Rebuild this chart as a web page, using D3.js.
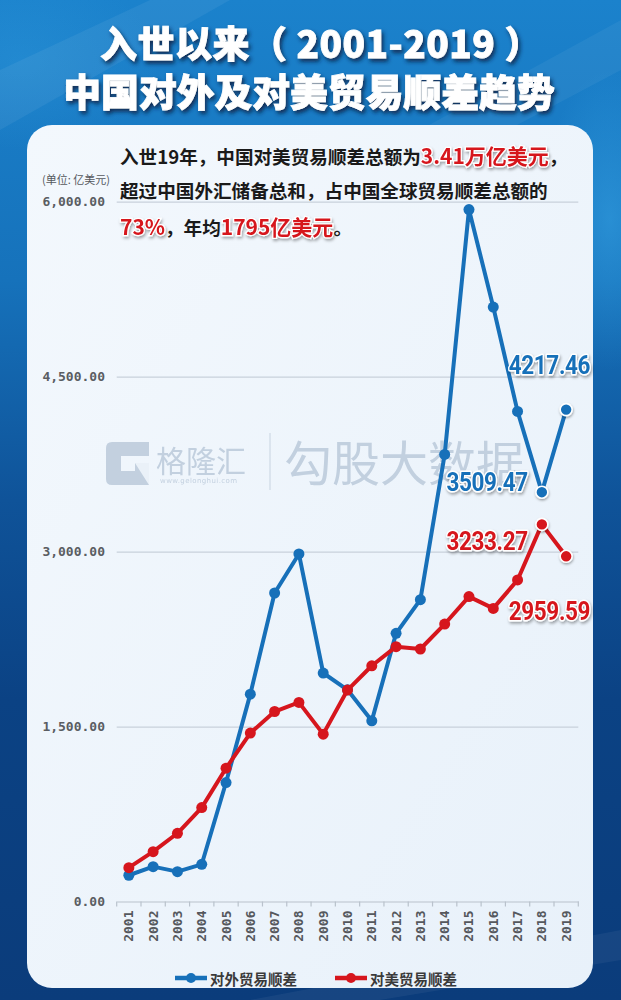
<!DOCTYPE html>
<html>
<head>
<meta charset="utf-8">
<script src="https://cdn.jsdelivr.net/npm/d3@7/dist/d3.min.js"></script>
<style>
  html, body { margin: 0; padding: 0; background: #0c3f7e; }
  svg { display: block; }
</style>
</head>
<body>
<svg id="chart" width="621" height="1000"></svg>
<script>
// Years since WTO accession
const years = ["2001","2002","2003","2004","2005","2006","2007","2008","2009","2010",
               "2011","2012","2013","2014","2015","2016","2017","2018","2019"];
// China's total trade surplus (100 million USD)
const totalSurplus = [225, 299, 256, 319, 1020, 1778, 2645, 2980, 1959, 1815,
                      1549, 2299, 2588, 3833, 5933, 5097, 4202, 3509.47, 4217.46];
// China's trade surplus with the US (100 million USD)
const usSurplus = [290, 427, 585, 805, 1143, 1444, 1629, 1707, 1435, 1813,
                   2021, 2185, 2165, 2379, 2614, 2513, 2757, 3233.27, 2959.59];
// Value axis ticks
const yTicks = [0, 1500, 3000, 4500, 6000];
const seriesNames = ["对外贸易顺差", "对美贸易顺差"];
const titleLines = ["入世以来（ 2001-2019 ）", "中国对外及对美贸易顺差趋势"];

const BLUE = "#1770b9", RED = "#d6161d";
const CJK = "'Noto Sans CJK SC', 'Noto Sans', sans-serif";
const MONO = "'DejaVu Sans Mono', 'Liberation Mono', monospace";
const NUM = "'Roboto', 'Liberation Sans', sans-serif";

const svg = d3.select("#chart");
const defs = svg.append("defs");

// ---- background ----
const bg = defs.append("linearGradient").attr("id", "bg").attr("x1", 0).attr("y1", 0).attr("x2", 0).attr("y2", 1);
[[0, "#1b82cc"], [0.28, "#1672bb"], [0.5, "#0f5399"], [0.7, "#0b4284"], [1, "#0b3c7b"]]
  .forEach(([o, c]) => bg.append("stop").attr("offset", o).attr("stop-color", c));
svg.append("rect").attr("width", 621).attr("height", 1000).attr("fill", "url(#bg)");

const glow = defs.append("radialGradient").attr("id", "glow").attr("cx", 0.5).attr("cy", 0.5).attr("r", 0.5);
glow.append("stop").attr("offset", 0).attr("stop-color", "#3aa8e8").attr("stop-opacity", 0.5);
glow.append("stop").attr("offset", 1).attr("stop-color", "#3aa8e8").attr("stop-opacity", 0);
svg.append("ellipse").attr("cx", 610).attr("cy", 220).attr("rx", 70).attr("ry", 150).attr("fill", "url(#glow)");
svg.append("ellipse").attr("cx", 20).attr("cy", 60).attr("rx", 140).attr("ry", 90).attr("fill", "url(#glow)").attr("opacity", 0.5);

// light diagonal streaks
svg.append("path").attr("d", "M0,70 L150,0 L230,0 L0,130 Z").attr("fill", "#ffffff").attr("opacity", 0.06);
svg.append("path").attr("d", "M420,130 L621,20 L621,70 L470,150 Z").attr("fill", "#ffffff").attr("opacity", 0.05);
svg.append("path").attr("d", "M250,1000 L621,930 L621,960 L380,1000 Z").attr("fill", "#ffffff").attr("opacity", 0.05);

// ---- filters ----
const sh = defs.append("filter").attr("id", "titleShadow").attr("x", "-10%").attr("y", "-30%").attr("width", "120%").attr("height", "160%");
sh.append("feDropShadow").attr("dx", 2).attr("dy", 3).attr("stdDeviation", 2).attr("flood-color", "#08224a").attr("flood-opacity", 0.9);

const ls = defs.append("filter").attr("id", "labelShadow").attr("x", "-10%").attr("y", "-30%").attr("width", "130%").attr("height", "170%");
ls.append("feDropShadow").attr("dx", 1).attr("dy", 2).attr("stdDeviation", 1.6).attr("flood-color", "#000").attr("flood-opacity", 0.35);

const ds = defs.append("filter").attr("id", "dotShadow").attr("x", "-50%").attr("y", "-50%").attr("width", "200%").attr("height", "200%");
ds.append("feDropShadow").attr("dx", 0.5).attr("dy", 1.5).attr("stdDeviation", 1.2).attr("flood-color", "#000").attr("flood-opacity", 0.35);

// ---- title ----
svg.append("g").attr("filter", "url(#titleShadow)")
  .selectAll("text").data(titleLines).join("text")
  .attr("x", (d, i) => i ? 309 : 100).attr("y", (d, i) => i ? 106 : 58)
  .attr("text-anchor", (d, i) => i ? "middle" : "start")
  .attr("font-family", CJK).attr("font-weight", 900)
  .attr("font-size", (d, i) => i ? 37.8 : 37)
  .attr("letter-spacing", (d, i) => i ? 0 : 0.5)
  .attr("fill", "#ffffff").attr("stroke", "#ffffff").attr("stroke-width", 0.8)
  .text(d => d);

// ---- panel ----
const pg = defs.append("linearGradient").attr("id", "panel").attr("x1", 0).attr("y1", 0).attr("x2", 1).attr("y2", 1);
pg.append("stop").attr("offset", 0).attr("stop-color", "#f3f8fd");
pg.append("stop").attr("offset", 1).attr("stop-color", "#e8f1fa");
svg.append("rect").attr("x", 27).attr("y", 125).attr("width", 566).attr("height", 863)
  .attr("rx", 25).attr("fill", "url(#panel)");

// ---- scales ----
const x = d3.scaleBand().domain(years).range([116.7, 578.3]);
const cx = d => x(d) + x.bandwidth() / 2;
const y = d3.scaleLinear().domain([0, 6000]).range([901.5, 201.7]);

// ---- watermark ----
const wm = svg.append("g").attr("fill", "#b4c4d6").attr("opacity", 0.75);
wm.append("path")
  .attr("d", "M112,442 H149 V456 H121 V471 H135 V463 H149 V485 H112 Q106,485 106,479 V448 Q106,442 112,442 Z");
wm.append("path").attr("d", "M135,463 L149,463 L149,485 Z").attr("fill", "#eef5fb").attr("opacity", 0.9);
wm.append("text").attr("x", 156).attr("y", 472).attr("font-family", CJK).attr("font-weight", 400)
  .attr("font-size", 30).text("格隆汇");
wm.append("text").attr("x", 160).attr("y", 483).attr("font-family", "'DejaVu Sans', sans-serif")
  .attr("font-size", 7).attr("letter-spacing", 0.4).text("www.gelonghui.com");
wm.append("line").attr("x1", 270).attr("x2", 270).attr("y1", 433).attr("y2", 490)
  .attr("stroke", "#c3d0de").attr("stroke-width", 1.2);
wm.append("text").attr("x", 284).attr("y", 481).attr("font-family", CJK).attr("font-weight", 400)
  .attr("font-size", 48).text("勾股大数据");

// ---- gridlines ----
svg.append("g").attr("transform", "translate(116.7,0)")
  .call(d3.axisLeft(y).tickValues(yTicks.filter(v => v > 0)).tickSize(-461.6).tickFormat(""))
  .call(g => g.select(".domain").remove())
  .call(g => g.selectAll("line").attr("stroke", "#c8d1db").attr("stroke-width", 1.2));

// ---- y axis labels ----
svg.append("g").attr("transform", "translate(111,0)")
  .call(d3.axisLeft(y).tickValues(yTicks).tickSize(0).tickPadding(6).tickFormat(d3.format(",.2f")))
  .call(g => g.select(".domain").remove())
  .call(g => g.selectAll("text").attr("font-family", MONO).attr("font-weight", 700)
    .attr("font-size", 13).attr("fill", "#5a5d62"));

svg.append("text").attr("x", 42).attr("y", 184)
  .attr("font-family", CJK).attr("font-size", 11).attr("fill", "#55585d")
  .text("(单位: 亿美元)");

// ---- x axis ----
const xa = svg.append("g").attr("transform", `translate(0,${y(0)})`);
xa.call(d3.axisBottom(x).tickSize(0).tickPadding(0))
  .call(g => g.select(".domain").attr("stroke", "#b9c2cc").attr("stroke-width", 1.2))
  .call(g => g.selectAll("text")
    .attr("font-family", MONO).attr("font-weight", 700).attr("font-size", 13).attr("fill", "#55585d")
    .attr("text-anchor", "end").attr("dy", null).attr("y", 0)
    .attr("dominant-baseline", "central")
    .attr("transform", "translate(0,9) rotate(-90)"));
// boundary ticks between categories
xa.selectAll("line.sep").data(years.map(x).concat([x.range()[1]])).join("line")
  .attr("class", "sep").attr("x1", d => d).attr("x2", d => d).attr("y1", 0).attr("y2", 5)
  .attr("stroke", "#b9c2cc").attr("stroke-width", 1.2);

// ---- lines ----
const line = d3.line().x((d, i) => cx(years[i])).y(d => y(d));
const series = [
  { name: seriesNames[0], values: totalSurplus, color: BLUE },
  { name: seriesNames[1], values: usSurplus, color: RED }
];
series.forEach(s => {
  const g = svg.append("g");
  g.append("path").datum(s.values).attr("d", line)
    .attr("fill", "none").attr("stroke", s.color).attr("stroke-width", 4)
    .attr("stroke-linejoin", "round");
  g.selectAll("circle").data(s.values).join("circle")
    .attr("cx", (d, i) => cx(years[i])).attr("cy", d => y(d))
    .attr("r", (d, i) => i >= years.length - 2 ? 6 : 5.5)
    .attr("fill", s.color)
    .attr("stroke", (d, i) => i >= years.length - 2 ? "#ffffff" : "none")
    .attr("stroke-width", 1.6)
    .attr("filter", (d, i) => i >= years.length - 2 ? "url(#dotShadow)" : null);
});

// ---- value labels on the last two years (condensed numerals) ----
const n = years.length;
const valueLabels = [
  { v: totalSurplus[n - 1], yr: years[n - 1], color: BLUE, dx: 24, dy: -44 },
  { v: totalSurplus[n - 2], yr: years[n - 2], color: BLUE, dx: -14, dy: -10 },
  { v: usSurplus[n - 2], yr: years[n - 2], color: RED, dx: -14, dy: 17 },
  { v: usSurplus[n - 1], yr: years[n - 1], color: RED, dx: 24, dy: 55 }
];
svg.append("g").attr("filter", "url(#labelShadow)")
  .selectAll("text").data(valueLabels).join("text")
  .attr("transform", d => `translate(${cx(d.yr) + d.dx},${y(d.v) + d.dy}) scale(0.9,1)`)
  .attr("text-anchor", "end").attr("dominant-baseline", "central")
  .attr("font-family", NUM).attr("font-weight", 700).attr("font-size", 25)
  .attr("letter-spacing", -0.4)
  .attr("fill", d => d.color).attr("stroke", "#ffffff").attr("stroke-width", 3)
  .attr("paint-order", "stroke").attr("stroke-linejoin", "round")
  .text(d => d3.format(".2f")(d.v));

// ---- annotation ----
const note = [
  [["入世19年，中国对美贸易顺差总额为", 0], ["3.41万亿美元", 1], ["，", 0]],
  [["超过中国外汇储备总和，占中国全球贸易顺差总额的", 0]],
  [["73%", 1], ["，年均", 0], ["1795亿美元", 1], ["。", 0]]
];
const noteG = svg.append("g");
note.forEach((parts, li) => {
  const t = noteG.append("text").attr("x", 120).attr("y", [164, 198, 235][li])
    .attr("font-family", CJK).attr("font-weight", 700);
  parts.forEach(([s, hi]) => {
    t.append("tspan").text(s)
      .attr("font-size", hi ? 21 : 18.6)
      .attr("fill", hi ? RED : "#1a1a1a")
      .attr("stroke", hi ? "#ffffff" : null).attr("stroke-width", hi ? 2.5 : null)
      .attr("paint-order", "stroke")
      .attr("filter", hi ? "url(#labelShadow)" : null);
  });
});

// ---- legend ----
const legend = svg.append("g").attr("transform", "translate(0,978)");
series.forEach((s, i) => {
  const lx = [175, 335][i];
  const g = legend.append("g").attr("transform", `translate(${lx},0)`);
  g.append("line").attr("x1", 0).attr("x2", 32).attr("stroke", s.color).attr("stroke-width", 4.5);
  g.append("circle").attr("cx", 16).attr("r", 5).attr("fill", s.color);
  g.append("text").attr("x", 35).attr("dominant-baseline", "central")
    .attr("font-family", CJK).attr("font-weight", 700).attr("font-size", 14.5)
    .attr("fill", "#3a3a3a").text(s.name);
});
</script>
</body>
</html>
